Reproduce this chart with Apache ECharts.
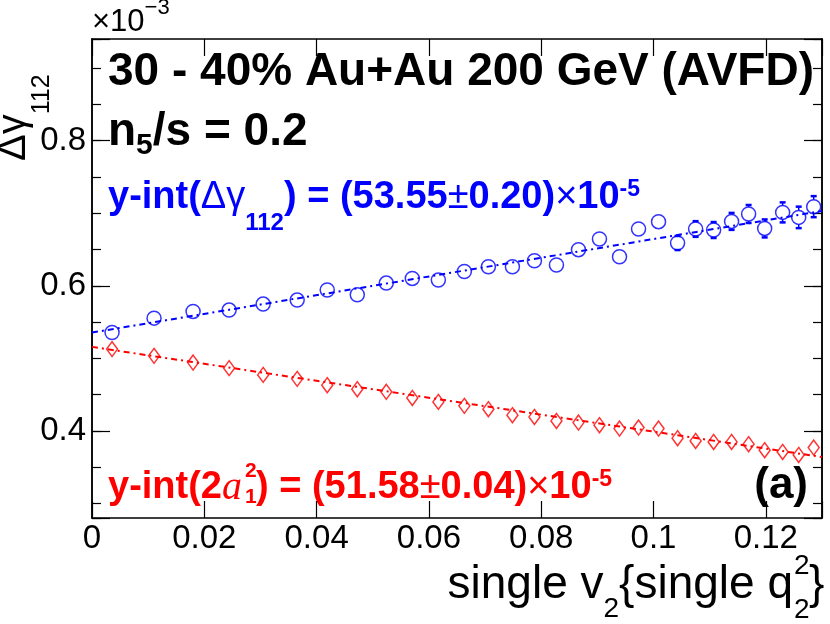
<!DOCTYPE html>
<html><head><meta charset="utf-8">
<script src="https://cdn.jsdelivr.net/npm/echarts@6/dist/echarts.min.js"></script>
<style>html,body{margin:0;padding:0;background:#fff}#c{width:830px;height:624px}</style>
</head><body><div id="c"></div>
<script>
// ---- data (values in units of 1e-3) ----
const xVals = [0.00357, 0.01105, 0.0180, 0.02442, 0.03048, 0.03654, 0.04189, 0.04724, 0.05241, 0.05704,
  0.06168, 0.06631, 0.07059, 0.07487, 0.07879, 0.08271, 0.08663, 0.09037, 0.09394, 0.09733,
  0.10089, 0.10428, 0.10749, 0.11070, 0.11390, 0.11693, 0.11979, 0.12299, 0.12585, 0.12852];
const blueVals = [0.5356, 0.5554, 0.5646, 0.5665, 0.5748, 0.5803, 0.5941, 0.5876, 0.6037, 0.6101,
  0.6079, 0.6197, 0.6262, 0.6262, 0.6345, 0.6286, 0.6497, 0.6644, 0.6400, 0.6782,
  0.6883, 0.6589, 0.6782, 0.6768, 0.6887, 0.6989, 0.6790, 0.7011, 0.6942, 0.7090];
const blueErr = [0.003, 0.003, 0.003, 0.003, 0.003, 0.004, 0.004, 0.004, 0.004, 0.005,
  0.005, 0.005, 0.005, 0.006, 0.006, 0.006, 0.007, 0.007, 0.007, 0.008,
  0.008, 0.0097, 0.0108, 0.011, 0.0117, 0.0124, 0.0124, 0.0138, 0.0148, 0.0145];
const redVals = [0.5127, 0.5034, 0.4942, 0.4865, 0.4772, 0.4717, 0.4630, 0.4575, 0.4538, 0.4455,
  0.4400, 0.4345, 0.4299, 0.4217, 0.4193, 0.4138, 0.4115, 0.4079, 0.4032, 0.4046,
  0.4032, 0.3899, 0.3862, 0.3848, 0.3848, 0.3817, 0.3734, 0.3710, 0.3669, 0.3770];
const fitX = [0, 0.13];
const blueFit = [0.5355, 0.703];
const redFit = [0.5158, 0.364];
const xTickLabels = [0, 0.02, 0.04, 0.06, 0.08, 0.1, 0.12];
const yTickLabels = [0.4, 0.6, 0.8];

// ---- styling ----
const F = 'Liberation Sans, Arial, Helvetica, sans-serif';
const SERIF = 'Liberation Serif, Times New Roman, serif';
const BLUE = '#0000ff', RED = '#ff0000', BLACK = '#000000';

const chart = echarts.init(document.getElementById('c'), null, {renderer: 'canvas'});

function fmtX(v) {
  const hit = xTickLabels.find(t => Math.abs(t - v) < 1e-9);
  return hit === undefined ? '' : String(hit);
}
function fmtY(v) {
  const hit = yTickLabels.find(t => Math.abs(t - v) < 1e-9);
  return hit === undefined ? '' : hit.toFixed(1);
}
const axisLine = {show: true, onZero: false, lineStyle: {color: BLACK, width: 1.5}};
function xAx(pos, labels) {
  return {type: 'value', min: 0, max: 0.13, interval: 0.02, position: pos,
    axisLine: axisLine, splitLine: {show: false},
    axisTick: {show: true, inside: true, length: 17, lineStyle: {color: BLACK, width: 1.2}},
    axisLabel: labels ? {show: true, fontFamily: F, fontSize: 33, color: BLACK, margin: 4, formatter: fmtX} : {show: false}};
}
function yAx(pos, split, len, labels) {
  return {type: 'value', min: 0.28, max: 0.94, splitNumber: split, position: pos,
    axisLine: axisLine, splitLine: {show: false},
    axisTick: {show: true, inside: true, length: len, lineStyle: {color: BLACK, width: 1.2}},
    axisLabel: labels ? {show: true, fontFamily: F, fontSize: 33, color: BLACK, margin: 6, formatter: fmtY} : {show: false}};
}

const mStyle = (fs, lh, col, extra) => Object.assign({fontFamily: F, fontWeight: 'bold', fontSize: fs, lineHeight: lh, fill: col, verticalAlign: 'top'}, extra || {});

const graphics = [
  // x10^-3
  {type: 'text', x: 92, y: -3, style: {text: '{m|×10}{p|−3}', align: 'left', verticalAlign: 'top',
    rich: {m: mStyle(31, 32, BLACK, {fontWeight: 'normal', padding: [10, 0, 0, 0]}),
           p: mStyle(22, 22, BLACK, {fontWeight: 'normal'})}}},
  // y axis title
  {type: 'text', x: -6, y: 161, rotation: Math.PI / 2, style: {text: '{m|Δγ}{s|112}', align: 'left', verticalAlign: 'top',
    rich: {m: mStyle(40, 40, BLACK, {fontWeight: 'normal'}),
           s: mStyle(25, 25, BLACK, {fontWeight: 'normal', padding: [36, 0, 0, 0]})}}},
  // header
  {type: 'text', x: 108, y: 72, style: {text: '30 - 40% Au+Au 200 GeV (AVFD)', fontFamily: F, fontWeight: 'bold', fontSize: 46, fill: BLACK, align: 'left', verticalAlign: 'middle'}},
  {type: 'text', x: 108, y: 109, style: {text: '{m|n}{s|5}{m|/s = 0.2}', align: 'left', verticalAlign: 'top',
    rich: {m: mStyle(46, 46, BLACK), s: mStyle(30, 30, BLACK, {padding: [22, 0, 0, 0]})}}},
  // blue annotation
  {type: 'text', x: 108, y: 178.4, style: {text: '{m|y-int(}{g|Δγ}{s|112}{m|) = (53.55}{g|±}{m|0.20)}{g|×}{m|10}{p|-5}', align: 'left', verticalAlign: 'top',
    rich: {m: mStyle(38, 40, BLUE), g: mStyle(38, 40, BLUE, {fontWeight: 'normal'}),
           s: mStyle(24, 24, BLUE, {padding: [33, 0, 0, 0]}), p: mStyle(23, 23, BLUE)}}},
  // red annotation
  {type: 'text', x: 108, y: 468.4, style: {text: '{m|y-int(2}{i|a}', align: 'left', verticalAlign: 'top',
    rich: {m: mStyle(38, 40, RED), i: mStyle(40, 40, RED, {fontFamily: SERIF, fontWeight: 'normal', fontStyle: 'italic'})}}},
  {type: 'text', x: 245, y: 471, style: {text: '2', fontFamily: F, fontWeight: 'bold', fontSize: 21, fill: RED, align: 'left', verticalAlign: 'middle'}},
  {type: 'text', x: 245, y: 497, style: {text: '1', fontFamily: F, fontWeight: 'bold', fontSize: 21, fill: RED, align: 'left', verticalAlign: 'middle'}},
  {type: 'text', x: 256, y: 468.4, style: {text: '{m|) = (51.58}{g|±}{m|0.04)}{g|×}{m|10}{p|-5}', align: 'left', verticalAlign: 'top',
    rich: {m: mStyle(38, 40, RED), g: mStyle(38, 40, RED, {fontWeight: 'normal'}), p: mStyle(23, 23, RED)}}},
  // panel label
  {type: 'text', x: 808, y: 485.6, style: {text: '(a)', fontFamily: F, fontWeight: 'bold', fontSize: 44, fill: BLACK, align: 'right', verticalAlign: 'middle'}},
  // x axis title
  {type: 'text', x: 793, y: 562, style: {text: '{m|single v}{s|2}{m|{single q}', align: 'right', verticalAlign: 'top',
    rich: {m: mStyle(46, 46, BLACK, {fontWeight: 'normal'}), s: mStyle(28, 28, BLACK, {fontWeight: 'normal', padding: [33, 0, 0, 0]})}}},
  {type: 'text', x: 794, y: 566, style: {text: '2', fontFamily: F, fontSize: 28, fill: BLACK, align: 'left', verticalAlign: 'middle'}},
  {type: 'text', x: 794, y: 610, style: {text: '2', fontFamily: F, fontSize: 28, fill: BLACK, align: 'left', verticalAlign: 'middle'}},
  {type: 'text', x: 809, y: 585, style: {text: '}', fontFamily: F, fontSize: 46, fill: BLACK, align: 'left', verticalAlign: 'middle'}}
];

function errRender(params, api) {
  const x = api.value(0), y = api.value(1), e = api.value(2);
  const c = api.coord([x, y]);
  const t = api.coord([x, y + e]);
  const b = api.coord([x, y - e]);
  const r = 7;
  const ls = {stroke: BLUE, lineWidth: 1.5};
  const cs = {stroke: BLUE, lineWidth: 2.5};
  const ch = [];
  if (c[1] - t[1] > r) {
    ch.push({type: 'line', shape: {x1: c[0], y1: c[1] - r, x2: c[0], y2: t[1]}, style: ls});
    ch.push({type: 'line', shape: {x1: c[0] - 3, y1: t[1], x2: c[0] + 3, y2: t[1]}, style: cs});
  }
  if (b[1] - c[1] > r) {
    ch.push({type: 'line', shape: {x1: c[0], y1: c[1] + r, x2: c[0], y2: b[1]}, style: ls});
    ch.push({type: 'line', shape: {x1: c[0] - 3, y1: b[1], x2: c[0] + 3, y2: b[1]}, style: cs});
  }
  return {type: 'group', children: ch};
}

const option = {
  animation: false,
  backgroundColor: '#ffffff',
  grid: {left: 92, right: 8, top: 39, bottom: 106, containLabel: false, outerBoundsMode: 'none'},
  xAxis: [xAx('bottom', true), xAx('top', false)],
  yAxis: [yAx('left', 3, 18, true), yAx('left', 13, 9, false), yAx('right', 3, 18, false), yAx('right', 13, 9, false)],
  series: [
    {type: 'line', xAxisIndex: 0, yAxisIndex: 0, data: fitX.map((x, i) => [x, blueFit[i]]), showSymbol: false, silent: true,
      lineStyle: {color: BLUE, width: 2, type: [6, 4, 2, 4]}, z: 2},
    {type: 'line', xAxisIndex: 0, yAxisIndex: 0, data: fitX.map((x, i) => [x, redFit[i]]), showSymbol: false, silent: true,
      lineStyle: {color: RED, width: 2, type: [6, 4, 2, 4]}, z: 2},
    {type: 'custom', xAxisIndex: 0, yAxisIndex: 0, data: xVals.map((x, i) => [x, blueVals[i], blueErr[i]]), renderItem: errRender, silent: true, z: 3},
    {type: 'scatter', xAxisIndex: 0, yAxisIndex: 0, data: xVals.map((x, i) => [x, blueVals[i]]), symbol: 'circle', symbolSize: 14, silent: true,
      itemStyle: {color: 'rgba(0,0,0,0)', borderColor: BLUE, borderWidth: 1.5}, z: 4},
    {type: 'scatter', xAxisIndex: 0, yAxisIndex: 0, data: xVals.map((x, i) => [x, redVals[i]]), symbol: 'diamond', symbolSize: [11, 15], silent: true,
      itemStyle: {color: 'rgba(0,0,0,0)', borderColor: RED, borderWidth: 1.5}, z: 4}
  ],
  graphic: graphics
};
chart.setOption(option);
</script></body></html>
